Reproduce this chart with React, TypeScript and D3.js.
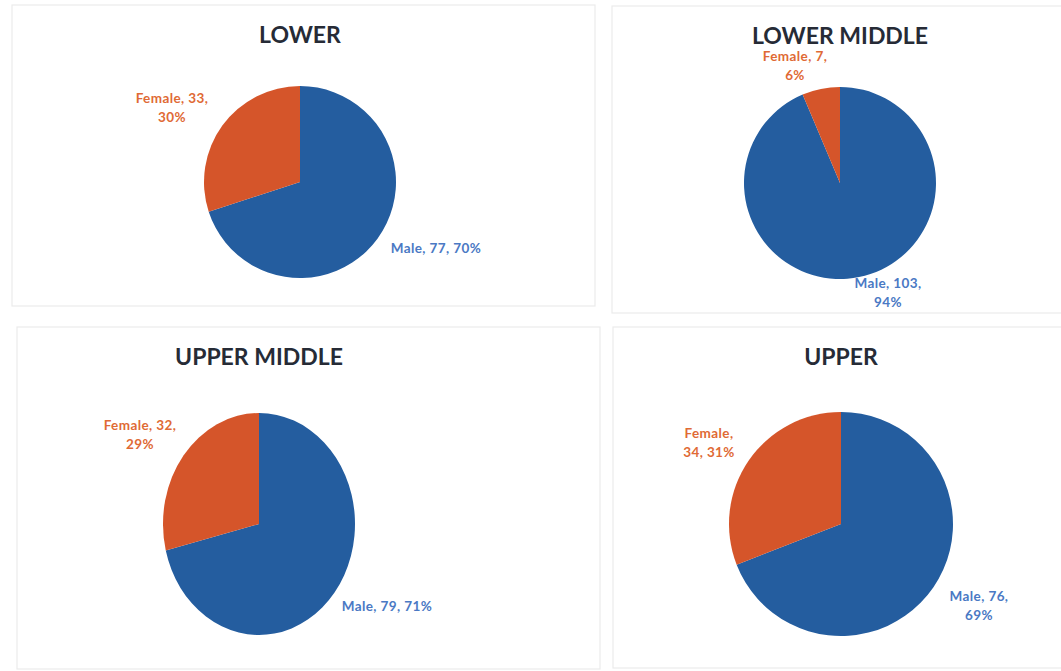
import React from 'react';
import * as d3 from 'd3'

const classes = ["LOWER", "LOWER MIDDLE", "UPPER MIDDLE", "UPPER"]
const genders = ["Male", "Female"]
const maleCounts = [77, 103, 79, 76]
const femaleCounts = [33, 7, 32, 34]

const width = 1061
const height = 671

const colors = {Male: "#245d9f", Female: "#d5552a"}
const labelColors = {Male: "#4a79c4", Female: "#e06a35"}

// panel layout: frame, pie centre, radii, title spot, label offsets
// split = how many comma parts go on the first label line
const panels = [
  {frame: [12, 5, 595, 306], cx: 300, cy: 182, rx: 96, ry: 96, ty: 43,
   labels: {Male: {dx: 136, dy: 68, split: 3}, Female: {dx: -128, dy: -73, split: 2}}},
  {frame: [612, 6, 1070, 313], cx: 840, cy: 183, rx: 96, ry: 96, ty: 44,
   labels: {Male: {dx: 48, dy: 111, split: 2}, Female: {dx: -45, dy: -116, split: 2}}},
  {frame: [17, 327, 600, 669], cx: 259, cy: 524, rx: 96, ry: 111, ty: 365,
   labels: {Male: {dx: 128, dy: 84, split: 3}, Female: {dx: -119, dy: -88, split: 2}}},
  {frame: [613, 327, 1070, 668], cx: 841, cy: 524, rx: 112, ry: 112, ty: 365,
   labels: {Male: {dx: 138, dy: 83, split: 2}, Female: {dx: -132, dy: -80, split: 1}}},
]

const pie = d3.pie<{name: string, value: number}>()
  .sort(null)
  .value(d => d.value)

const font = "Lato, 'Open Sans', sans-serif"

function Panel({i}: {i: number}) {
  const p = panels[i]
  const data = genders.map(g => ({name: g, value: g === "Male" ? maleCounts[i] : femaleCounts[i]}))
  const total = d3.sum(data, d => d.value)
  const arcs = pie(data)
  const arc = d3.arc<any>().innerRadius(0).outerRadius(p.rx)
  const [x0, y0, x1, y1] = p.frame

  return (
    <g>
      <rect x={x0} y={y0} width={x1 - x0} height={y1 - y0} fill="#fff" stroke="#ebebeb" strokeWidth={1.2} />
      <text x={p.cx} y={p.ty} textAnchor="middle" fontFamily={font} fontWeight="bold"
        fontSize={23} fill="#262b36">{classes[i]}</text>
      <g transform={`translate(${p.cx},${p.cy}) scale(1,${p.ry / p.rx})`}>
        {arcs.map(a => (
          <path key={a.data.name} d={arc(a) as string} fill={(colors as any)[a.data.name]} />
        ))}
      </g>
      {arcs.map(a => {
        const l = (p.labels as any)[a.data.name]
        const parts = [a.data.name, String(a.data.value), d3.format(".0%")(a.data.value / total)]
        const first = parts.slice(0, l.split).join(", ") + (l.split < 3 ? "," : "")
        const rest = parts.slice(l.split).join(", ")
        const lines = rest ? [first, rest] : [first]
        const x = p.cx + l.dx
        const y = p.cy + l.dy - (lines.length - 1) * 9.5
        return (
          <text key={a.data.name} x={x} y={y} textAnchor="middle" dominantBaseline="middle"
            fontFamily={font} fontWeight="bold" fontSize={13.5} letterSpacing={0.4}
            fill={(labelColors as any)[a.data.name]}>
            {lines.map((t, k) => <tspan key={k} x={x} dy={k === 0 ? 0 : 19}>{t}</tspan>)}
          </text>
        )
      })}
    </g>
  )
}

function App() {
  return (
    <svg width={width} height={height} viewBox={`0 0 ${width} ${height}`}
      style={{position: "absolute", left: 0, top: 0, background: "#fff"}}>
      {classes.map((c, i) => <Panel key={c} i={i} />)}
    </svg>
  )
}

export default App
